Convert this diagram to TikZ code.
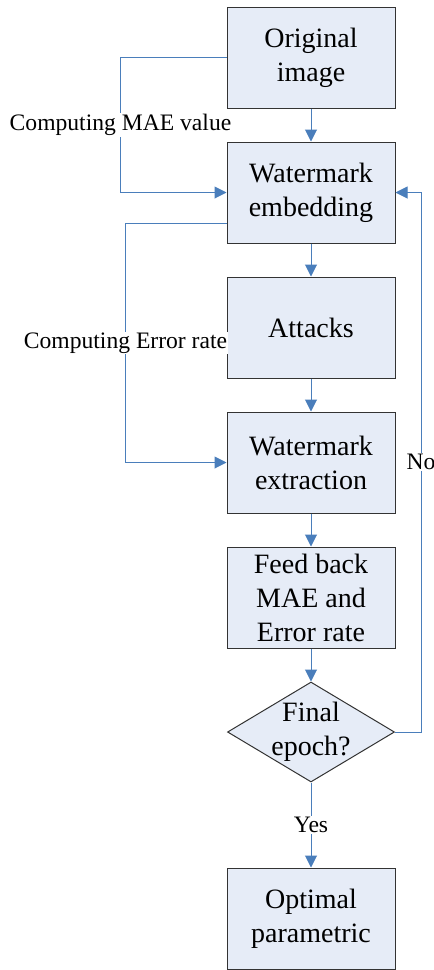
\documentclass[tikz,border=0pt]{standalone}
\usepackage{fontspec}
\setmainfont{Liberation Serif}
\usetikzlibrary{arrows.meta,shapes.geometric}

\definecolor{boxfill}{HTML}{E6ECF7}
\definecolor{linkblue}{HTML}{4A7EBB}

\tikzset{
  stage/.style={draw=black!80, line width=1pt, fill=boxfill, minimum width=168pt,
    minimum height=101pt, align=center, inner sep=0pt, font=\fontsize{28}{34}\selectfont},
  decision/.style={diamond, draw=black!80, line width=1pt, fill=boxfill,
    minimum width=167pt, minimum height=100pt, inner sep=0pt},
  link/.style={draw=linkblue, line width=1pt, -{Triangle[length=12pt,width=12pt]}},
  note/.style={fill=white, inner sep=1pt, font=\fontsize{23.6}{28}\selectfont},
}

\begin{document}
\begin{tikzpicture}[x=1pt,y=-1pt]
\useasboundingbox (0,0) rectangle (434,970);

% main column
\node[stage] (orig) at (311,57.5) {Original\\image};
\node[stage] (embed) at (311,192.5) {Watermark\\embedding};
\node[stage] (attack) at (311,327.5) {Attacks};
\node[stage] (extract) at (311,462.5) {Watermark\\extraction};
\node[stage] (feed) at (311,597.5) {Feed back\\MAE and\\Error rate};
\node[decision, label={[align=center, font=\fontsize{28}{34}\selectfont]center:{Final\\epoch?}}] (final) at (311,732) {};
\node[stage] (optim) at (311,918.5) {Optimal\\parametric};

\draw[link] (orig) -- (embed);
\draw[link] (embed) -- (attack);
\draw[link] (attack) -- (extract);
\draw[link] (extract) -- (feed);
\draw[link] (feed) -- (final);
\draw[link] (final) -- node[note] {Yes} (optim);

% side loops
\draw[link] (orig.west) -- ++(-106,0) |- node[note, pos=0.25] {Computing MAE value} (embed.west);
\draw[link] ([yshift=20pt]embed.south west) -- ++(-101,0) |- node[note, pos=0.25] {Computing Error rate} (extract.west);
\draw[link] (final.east) -- ++(26,0) |- node[note, pos=0.25] {No} (embed.east);
\end{tikzpicture}
\end{document}
